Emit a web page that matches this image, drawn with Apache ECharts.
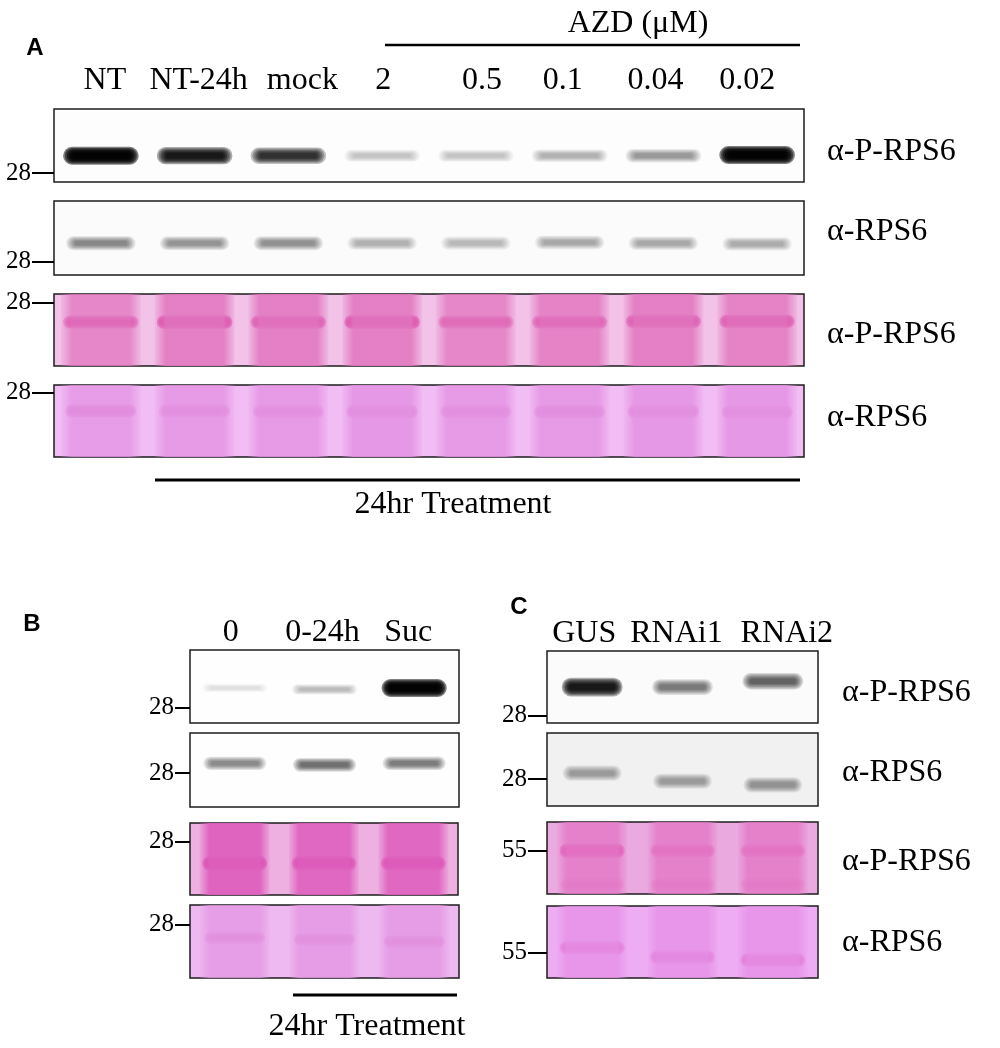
<!DOCTYPE html>
<html>
<head>
<meta charset="utf-8">
<script src="https://cdn.jsdelivr.net/npm/echarts/dist/echarts.min.js"></script>
<style>
  html, body { margin: 0; padding: 0; background: #fff; }
  #main { width: 1000px; height: 1048px; }
</style>
</head>
<body>
<div id="main"></div>
<script>
// lanes
const lanesA = ['NT', 'NT-24h', 'mock', '2', '0.5', '0.1', '0.04', '0.02'];
const lanesB = ['0', '0-24h', 'Suc'];
const lanesC = ['GUS', 'RNAi1', 'RNAi2'];

// band strength 0..1 (read by eye) and band position (fraction of strip height, from top)
const aPhos = [1.0, 0.9, 0.8, 0.22, 0.22, 0.28, 0.38, 1.0];
const aPhosPos = [0.64, 0.64, 0.64, 0.64, 0.64, 0.64, 0.64, 0.63];
const aTotal = [0.45, 0.4, 0.42, 0.28, 0.25, 0.32, 0.32, 0.3];
const aTotalPos = [0.57, 0.57, 0.57, 0.57, 0.57, 0.56, 0.57, 0.58];
const aStainP = [0.75, 0.85, 0.8, 0.85, 0.7, 0.75, 0.8, 0.8];
const aStainPPos = [0.39, 0.39, 0.39, 0.39, 0.39, 0.39, 0.38, 0.38];
const aStain = [0.5, 0.45, 0.45, 0.55, 0.45, 0.5, 0.55, 0.5];
const aStainPos = [0.36, 0.36, 0.37, 0.37, 0.37, 0.37, 0.37, 0.38];
const aLaneP = [0.8, 0.9, 0.9, 0.9, 0.8, 0.85, 0.9, 0.85];
const aLane = [0.8, 0.85, 0.85, 0.9, 0.85, 0.85, 0.9, 0.9];

const bPhos = [0.12, 0.25, 1.0];
const bPhosPos = [0.52, 0.54, 0.52];
const bTotal = [0.45, 0.55, 0.5];
const bTotalPos = [0.41, 0.43, 0.41];
const bStainP = [0.8, 0.75, 0.75];
const bStainPPos = [0.56, 0.56, 0.56];
const bStain = [0.45, 0.5, 0.5];
const bStainPos = [0.45, 0.47, 0.5];
const bLaneP = [0.95, 0.9, 0.9];
const bLane = [0.8, 0.85, 0.85];

const cPhos = [0.9, 0.5, 0.6];
const cPhosPos = [0.5, 0.5, 0.42];
const cTotal = [0.35, 0.35, 0.38];
const cTotalPos = [0.55, 0.66, 0.71];
const cStainP = [0.8, 0.6, 0.6];
const cStainPPos = [0.4, 0.4, 0.4];
const cStainPLow = [0.35, 0.35, 0.35];
const cStainPLowPos = [0.87, 0.87, 0.87];
const cStain = [0.55, 0.5, 0.55];
const cStainPos = [0.58, 0.71, 0.75];
const cLaneP = [0.85, 0.85, 0.85];
const cLane = [0.85, 0.85, 0.85];

// size markers: position and label
const markA = [0.88, 0.82, 0.12, 0.11];
const markB = [0.79, 0.54, 0.26, 0.27];
const markC = [0.90, 0.63, 0.40, 0.65];
const markLabelA = ['28', '28', '28', '28'];
const markLabelB = ['28', '28', '28', '28'];
const markLabelC = ['28', '28', '55', '55'];

const SERIF = '"Liberation Serif", "Times New Roman", serif';
const chart = echarts.init(document.getElementById('main'));

// small left/right nudges of lane captions (px), layout only
const nudgeA = [4, 4, 14, 1, 6, -7, -8, -10];
const nudgeB = [-4, -2, -6];
const nudgeC = [-8, -6, 14];

const option = {
  animation: false,
  backgroundColor: '#fff',
  grid: [], xAxis: [], yAxis: [], series: [], graphic: []
};

function rgba(rgb, a) {
  return 'rgba(' + rgb + ',' + a + ')';
}

function captions(lanes, nudge) {
  return lanes.map(function (l, k) {
    const n = nudge[k];
    return { value: l, textStyle: { padding: n > 0 ? [0, 0, 0, 2 * n] : [0, -2 * n, 0, 0] } };
  });
}

// a band: stacked translucent pills, so it fades out at every edge
const LAYERS = 6;
function bandRender(rgb, w, hMin, hMax) {
  return function (params, api) {
    const c = api.coord([api.value(0), api.value(1)]);
    const a = Math.min(0.985, api.value(2));
    const h = hMin + (hMax - hMin) * a;
    const p = 1 - Math.pow(1 - a, 1 / LAYERS);
    const children = [];
    for (let k = 0; k < LAYERS; k++) {
      const t = k / (LAYERS - 1);
      const ww = w * (1.05 - 0.25 * t);
      const hh = h * (1.5 - 1.0 * t);
      children.push({
        type: 'rect',
        shape: { x: c[0] - ww / 2, y: c[1] - hh / 2, width: ww, height: hh, r: hh / 2 },
        style: { fill: rgba(rgb, p) }
      });
    }
    return { type: 'group', children: children };
  };
}

function addStrip(s) {
  const i = option.grid.length;
  option.grid.push({
    left: s.box[0], top: s.box[1], width: s.box[2], height: s.box[3],
    show: true, backgroundColor: s.bg, borderColor: '#1c1c1c', borderWidth: 1.5
  });
  option.xAxis.push({
    gridIndex: i, type: 'category', position: 'top',
    data: s.nudge ? captions(s.lanes, s.nudge) : s.lanes,
    axisLine: { show: false }, axisTick: { show: false }, splitLine: { show: false },
    axisLabel: {
      show: s.header !== undefined, margin: s.header || 0, interval: 0,
      fontFamily: SERIF, fontSize: 32, color: '#000'
    }
  });
  option.yAxis.push({
    gridIndex: i, type: 'value', min: 0, max: 1, inverse: true,
    axisLine: { show: false }, splitLine: { show: false },
    axisTick: { show: true, customValues: [s.mark], length: s.tick, lineStyle: { color: '#000', width: 2 } },
    axisLabel: {
      customValues: [s.mark], formatter: function () { return s.markLabel; },
      margin: s.tick + 1, fontFamily: SERIF, fontSize: 25, color: '#000'
    }
  });
  if (s.lane) {
    option.series.push({
      type: 'bar', xAxisIndex: i, yAxisIndex: i, barWidth: s.laneW, silent: true,
      data: s.lane.map(function (a) {
        return {
          value: 1,
          itemStyle: {
            color: {
              type: 'linear', x: 0, y: 0, x2: 1, y2: 0,
              colorStops: [
                { offset: 0, color: rgba(s.laneRGB, a * 0.15) },
                { offset: 0.14, color: rgba(s.laneRGB, a) },
                { offset: 0.86, color: rgba(s.laneRGB, a) },
                { offset: 1, color: rgba(s.laneRGB, a * 0.15) }
              ]
            }
          }
        };
      })
    });
  }
  s.bands.forEach(function (b) {
    option.series.push({
      type: 'custom', xAxisIndex: i, yAxisIndex: i, clip: true, silent: true,
      renderItem: bandRender(b.rgb, b.w, b.h[0], b.h[1]),
      data: s.lanes.map(function (l, k) { return [k, b.pos[k], b.amt[k] * (b.gain || 1)]; })
    });
  });
}

// panel A
addStrip({ box: [54, 109, 750, 73], bg: '#fdfdfd', lanes: lanesA, header: 12, nudge: nudgeA,
  mark: markA[0], markLabel: markLabelA[0], tick: 22,
  bands: [{ amt: aPhos, pos: aPhosPos, rgb: '0,0,0', w: 72, h: [7, 12] }] });
addStrip({ box: [54, 201, 750, 74], bg: '#fbfbfb', lanes: lanesA,
  mark: markA[1], markLabel: markLabelA[1], tick: 22,
  bands: [{ amt: aTotal, pos: aTotalPos, rgb: '0,0,0', w: 66, h: [8, 11] }] });
addStrip({ box: [54, 294, 750, 72], bg: '#f2c2e8', lanes: lanesA,
  mark: markA[2], markLabel: markLabelA[2], tick: 22,
  lane: aLaneP, laneRGB: '226,120,192', laneW: 80,
  bands: [{ amt: aStainP, pos: aStainPPos, rgb: '210,30,144', w: 72, h: [7, 9], gain: 1.15 }] });
addStrip({ box: [54, 385, 750, 72], bg: '#f2bdf4', lanes: lanesA,
  mark: markA[3], markLabel: markLabelA[3], tick: 22,
  lane: aLane, laneRGB: '228,148,228', laneW: 80,
  bands: [{ amt: aStain, pos: aStainPos, rgb: '206,84,182', w: 68, h: [7, 10], gain: 1.5 }] });

// panel B
addStrip({ box: [190, 650, 269, 73], bg: '#fefefe', lanes: lanesB, header: 1, nudge: nudgeB,
  mark: markB[0], markLabel: markLabelB[0], tick: 15,
  bands: [{ amt: bPhos, pos: bPhosPos, rgb: '0,0,0', w: 62, h: [5, 12] }] });
addStrip({ box: [190, 733, 269, 74], bg: '#fefefe', lanes: lanesB,
  mark: markB[1], markLabel: markLabelB[1], tick: 15,
  bands: [{ amt: bTotal, pos: bTotalPos, rgb: '0,0,0', w: 60, h: [8, 10] }] });
addStrip({ box: [190, 823, 268, 72], bg: '#eeb0e0', lanes: lanesB,
  mark: markB[2], markLabel: markLabelB[2], tick: 15,
  lane: bLaneP, laneRGB: '222,96,190', laneW: 70,
  bands: [{ amt: bStainP, pos: bStainPPos, rgb: '208,30,144', w: 62, h: [7, 10], gain: 1.15 }] });
addStrip({ box: [190, 905, 269, 73], bg: '#eeb8f0', lanes: lanesB,
  mark: markB[3], markLabel: markLabelB[3], tick: 15,
  lane: bLane, laneRGB: '228,152,228', laneW: 70,
  bands: [{ amt: bStain, pos: bStainPos, rgb: '206,84,178', w: 58, h: [7, 9], gain: 1.5 }] });

// panel C
addStrip({ box: [547, 651, 271, 72], bg: '#fbfbfb', lanes: lanesC, header: 1, nudge: nudgeC,
  mark: markC[0], markLabel: markLabelC[0], tick: 19,
  bands: [{ amt: cPhos, pos: cPhosPos, rgb: '0,0,0', w: 58, h: [8, 13] }] });
addStrip({ box: [547, 733, 271, 73], bg: '#f1f1f1', lanes: lanesC,
  mark: markC[1], markLabel: markLabelC[1], tick: 19,
  bands: [{ amt: cTotal, pos: cTotalPos, rgb: '0,0,0', w: 56, h: [9, 12] }] });
addStrip({ box: [547, 822, 271, 72], bg: '#eaaae0', lanes: lanesC,
  mark: markC[2], markLabel: markLabelC[2], tick: 19,
  lane: cLaneP, laneRGB: '228,122,200', laneW: 70,
  bands: [
    { amt: cStainP, pos: cStainPPos, rgb: '216,40,150', w: 62, h: [7, 10], gain: 1.15 },
    { amt: cStainPLow, pos: cStainPLowPos, rgb: '218,64,168', w: 62, h: [8, 10], gain: 1.2 }
  ] });
addStrip({ box: [547, 906, 271, 72], bg: '#eeacf3', lanes: lanesC,
  mark: markC[3], markLabel: markLabelC[3], tick: 19,
  lane: cLane, laneRGB: '230,146,232', laneW: 70,
  bands: [{ amt: cStain, pos: cStainPos, rgb: '214,64,172', w: 62, h: [7, 10], gain: 1.5 }] });

function label(x, y, text, font, align) {
  return { type: 'text', x: x, y: y, silent: true,
    style: { text: text, font: font, fill: '#000', align: align || 'center', verticalAlign: 'middle' } };
}
function rule(x1, x2, y, w) {
  return { type: 'line', silent: true, shape: { x1: x1, y1: y, x2: x2, y2: y }, style: { stroke: '#000', lineWidth: w } };
}
const big = '32px ' + SERIF;
const letter = 'bold 24px "Liberation Sans", Arial, sans-serif';
option.graphic = [
  label(35, 48, 'A', letter), label(32, 624, 'B', letter), label(519, 607, 'C', letter),
  label(638, 24, 'AZD (μM)', big), rule(385, 800, 45, 2.5),
  rule(155, 800, 480, 3), label(453, 505, '24hr Treatment', big),
  rule(293, 457, 995, 3), label(367, 1027, '24hr Treatment', big),
  label(827, 152, 'α-P-RPS6', big, 'left'), label(827, 232, 'α-RPS6', big, 'left'),
  label(827, 335, 'α-P-RPS6', big, 'left'), label(827, 418, 'α-RPS6', big, 'left'),
  label(842, 693, 'α-P-RPS6', big, 'left'), label(842, 773, 'α-RPS6', big, 'left'),
  label(842, 862, 'α-P-RPS6', big, 'left'), label(842, 943, 'α-RPS6', big, 'left')
];

chart.setOption(option);
</script>
</body>
</html>
